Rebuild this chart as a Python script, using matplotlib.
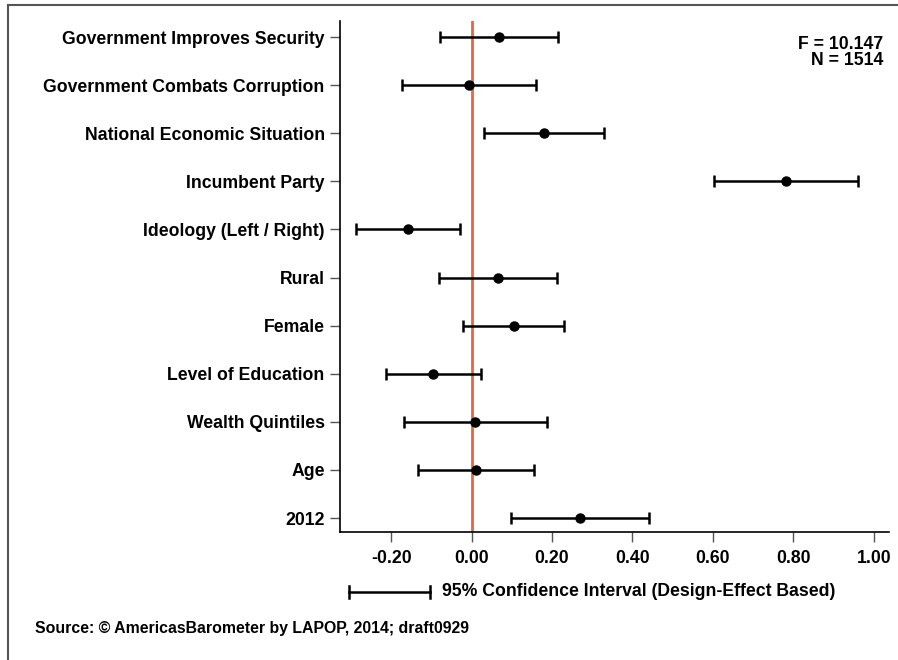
import matplotlib
matplotlib.use('Agg')
import matplotlib.pyplot as plt
from matplotlib.lines import Line2D

plt.rcParams['font.family'] = ['Liberation Sans', 'DejaVu Sans']
plt.rcParams['font.weight'] = 'bold'

labels = ['Government Improves Security', 'Government Combats Corruption',
          'National Economic Situation', 'Incumbent Party',
          'Ideology (Left / Right)', 'Rural', 'Female', 'Level of Education',
          'Wealth Quintiles', 'Age', '2012']
coef = [0.069, -0.006, 0.180, 0.782, -0.159, 0.066, 0.105, -0.096, 0.008, 0.010, 0.269]
lower = [-0.078, -0.174, 0.031, 0.602, -0.286, -0.081, -0.020, -0.213, -0.167, -0.133, 0.097]
upper = [0.214, 0.160, 0.330, 0.962, -0.028, 0.213, 0.230, 0.023, 0.187, 0.155, 0.441]
xticks = [-0.2, 0.0, 0.2, 0.4, 0.6, 0.8, 1.0]

fs = 12.7
fig = plt.figure(figsize=(8.98, 6.60), dpi=100)
ax = fig.add_axes([340/898, 128/660, 549/898, 511/660])

ypos = list(range(len(labels)))
err = [[c - l for c, l in zip(coef, lower)], [u - c for c, u in zip(coef, upper)]]
ax.axvline(0, color='#E8673F', lw=2, zorder=1)
ax.errorbar(coef, ypos, xerr=err, fmt='o', color='black', ms=6.5, lw=1.8,
            capsize=4.5, capthick=1.8, zorder=3)

ax.set_xlim(-0.327, 1.038)
ax.set_ylim(10.29, -0.333)
ax.set_yticks(ypos)
ax.set_yticklabels(labels, fontsize=fs, fontweight='bold')
ax.set_xticks(xticks)
ax.set_xticklabels(['%.2f' % v for v in xticks], fontsize=fs, fontweight='bold')
ax.tick_params(axis='both', length=7, width=1, color='#555555')
ax.tick_params(axis='x', pad=6)
ax.tick_params(axis='y', pad=4)
for s in ['top', 'right']:
    ax.spines[s].set_visible(False)
for s in ['left', 'bottom']:
    ax.spines[s].set_linewidth(1.2)

ax.text(0.99, 0.97, 'F = 10.147\nN = 1514', transform=ax.transAxes, ha='right', va='top',
        fontsize=fs, fontweight='bold', linespacing=0.9)

# legend for the CI line
fig.lines.append(Line2D([349/898, 430/898], [1 - 592/660] * 2, color='black', lw=1.8,
                        transform=fig.transFigure))
for xp in [349, 430]:
    fig.lines.append(Line2D([xp/898] * 2, [1 - 586/660, 1 - 598/660], color='black', lw=1.8,
                            transform=fig.transFigure))
fig.text(442/898, 1 - 592/660, '95% Confidence Interval (Design-Effect Based)',
         fontsize=fs, fontweight='bold', va='center', ha='left')
fig.text(35/898, 1 - 629/660, 'Source: \u00a9 AmericasBarometer by LAPOP, 2014; draft0929',
         fontsize=11.4, fontweight='bold', va='center', ha='left')

# frame lines (top and left only)
fig.lines.append(Line2D([8/898, 1], [1 - 4.5/660] * 2, color='#555555', lw=1.5,
                        transform=fig.transFigure))
fig.lines.append(Line2D([8/898] * 2, [0, 1 - 4.5/660], color='#555555', lw=1.5,
                        transform=fig.transFigure))

fig.savefig('out.png', dpi=100)
